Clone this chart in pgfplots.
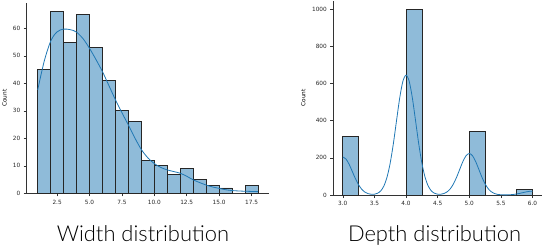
\documentclass[border=0pt]{standalone}
\usepackage{fontspec}
\setmainfont{DejaVu Sans}
\newfontfamily\titlefont{Lato Light}
\usepackage{pgfplots}
\pgfplotsset{compat=1.18}
\definecolor{sbblue}{HTML}{1F77B4}
\definecolor{barfill}{RGB}{143,187,217}
\pgfplotsset{sbstyle/.style={
  scale only axis,
  axis lines=left,
  axis line style={-, black!80, line width=0.6bp},
  tick style={black!80, line width=0.5bp},
  tick align=outside,
  major tick length=3bp,
  tick label style={font=\fontsize{5.8}{6}\selectfont, text=black!85},
  /pgf/number format/assume math mode=true,
  /pgf/number format/set thousands separator={},
  ylabel={Count},
  clip=false,
}}
\begin{document}
\begin{tikzpicture}[x=1bp,y=1bp]
% ---------- Width ----------
\begin{axis}[sbstyle,
  at={(26.7bp,52.7bp)}, anchor=south west,
  width=242.3bp, height=190.6bp,
  xmin=0.15, xmax=18.85, ymin=0, ymax=69.3,
  xtick={2.5,5,7.5,10,12.5,15,17.5},
  xticklabel style={/pgf/number format/.cd, fixed, fixed zerofill, precision=1},
  ytick={0,10,20,30,40,50,60},
  every axis y label/.style={at={(axis description cs:-0.0916,0.5)}, rotate=90, anchor=center, font=\fontsize{5.8}{6}\selectfont},
]
\addplot[ybar interval, fill=barfill, draw=black!85, line width=0.6bp] coordinates {
(1,45)(2,66)(3,55)(4,65)(5,53)(6,41)(7,30)(8,26)(9,12)(10,10)(11,7)(12,9)(13,5)(14,3)(15,2)(16,2)};
\addplot[ybar interval, fill=barfill, draw=black!85, line width=0.6bp] coordinates {(17,3)(18,3)};
\addplot[sbblue, line width=0.8bp, smooth, mark=none] coordinates {
(1.0,37.6)(1.25,43)(1.5,48)(1.75,52)(2.0,55.3)(2.25,57.4)(2.5,58.7)(2.75,59.4)(3.0,59.7)(3.25,59.7)(3.5,59.5)(3.75,59.2)(4.0,58.6)(4.5,56.2)(5.0,52.7)(5.5,48.6)(6.0,44.2)(6.5,39.1)(7.0,34.0)(7.5,29.3)(8.0,24.8)(8.5,20.1)(9.0,15.9)(9.5,12.9)(10.0,10.8)(10.5,9.4)(11.0,8.5)(11.5,7.9)(12.0,7.3)(12.5,6.2)(13.0,4.9)(13.5,3.9)(14.0,3.0)(14.5,2.3)(15.0,1.8)(15.5,1.3)(16.0,1.0)(16.5,0.85)(17.0,0.75)(17.5,0.68)(18.0,0.6)};
\end{axis}
% ---------- Depth ----------
\begin{axis}[sbstyle,
  at={(333.3bp,51bp)}, anchor=south west,
  width=208.7bp, height=194.4bp,
  xmin=2.85, xmax=6.15, ymin=0, ymax=1045,
  xtick={3,3.5,4,4.5,5,5.5,6},
  xticklabel style={/pgf/number format/.cd, fixed, fixed zerofill, precision=1},
  ytick={0,200,400,600,800,1000},
  every axis y label/.style={at={(axis description cs:-0.1437,0.5)}, rotate=90, anchor=center, font=\fontsize{5.8}{6}\selectfont},
]
\addplot[ybar interval, fill=barfill, draw=black!85, line width=0.6bp] coordinates {(3,313)(3.25,313)};
\addplot[ybar interval, fill=barfill, draw=black!85, line width=0.6bp] coordinates {(4,997)(4.25,997)};
\addplot[ybar interval, fill=barfill, draw=black!85, line width=0.6bp] coordinates {(5,344)(5.25,344)};
\addplot[ybar interval, fill=barfill, draw=black!85, line width=0.6bp] coordinates {(5.75,31)(6,31)};
\addplot[sbblue, line width=0.8bp, smooth, mark=none] coordinates {
(3.00,204)(3.05,193.5)(3.10,165.2)(3.15,126.9)(3.20,87.7)(3.25,54.7)(3.30,30.6)(3.35,15.5)(3.40,7.3)(3.45,4.0)(3.50,4.3)(3.55,9.4)(3.60,22.2)(3.65,48.7)(3.70,96.6)(3.75,172.6)(3.80,276.9)(3.85,400.6)(3.90,521.6)(3.95,611)(4.00,644)(4.05,611)(4.10,521.6)(4.15,400.6)(4.20,276.9)(4.25,172.6)(4.30,96.6)(4.35,48.7)(4.40,22.2)(4.45,9.4)(4.50,4.4)(4.55,4.2)(4.60,8.0)(4.65,17.0)(4.70,33.5)(4.75,59.8)(4.80,95.9)(4.85,138.7)(4.90,180.6)(4.95,211.6)(5.00,223)(5.05,211.6)(5.10,180.6)(5.15,138.7)(5.20,95.9)(5.25,59.8)(5.30,33.5)(5.35,16.9)(5.40,7.7)(5.45,3.1)(5.50,1.2)(5.55,0.7)(5.60,0.8)(5.65,1.6)(5.70,3.1)(5.75,5.5)(5.80,8.9)(5.85,12.9)(5.90,16.8)(5.95,19.6)(6.00,20.7)};
\end{axis}
% ---------- titles ----------
\node[anchor=base, font=\titlefont\fontsize{22}{22}\selectfont] at (142.9,4.3) {Width distribution};
\node[anchor=base, font=\titlefont\fontsize{22}{22}\selectfont] at (434.5,4.3) {Depth distribution};
\pgfresetboundingbox
\path (0,0) rectangle (542,246);
\end{tikzpicture}
\end{document}
